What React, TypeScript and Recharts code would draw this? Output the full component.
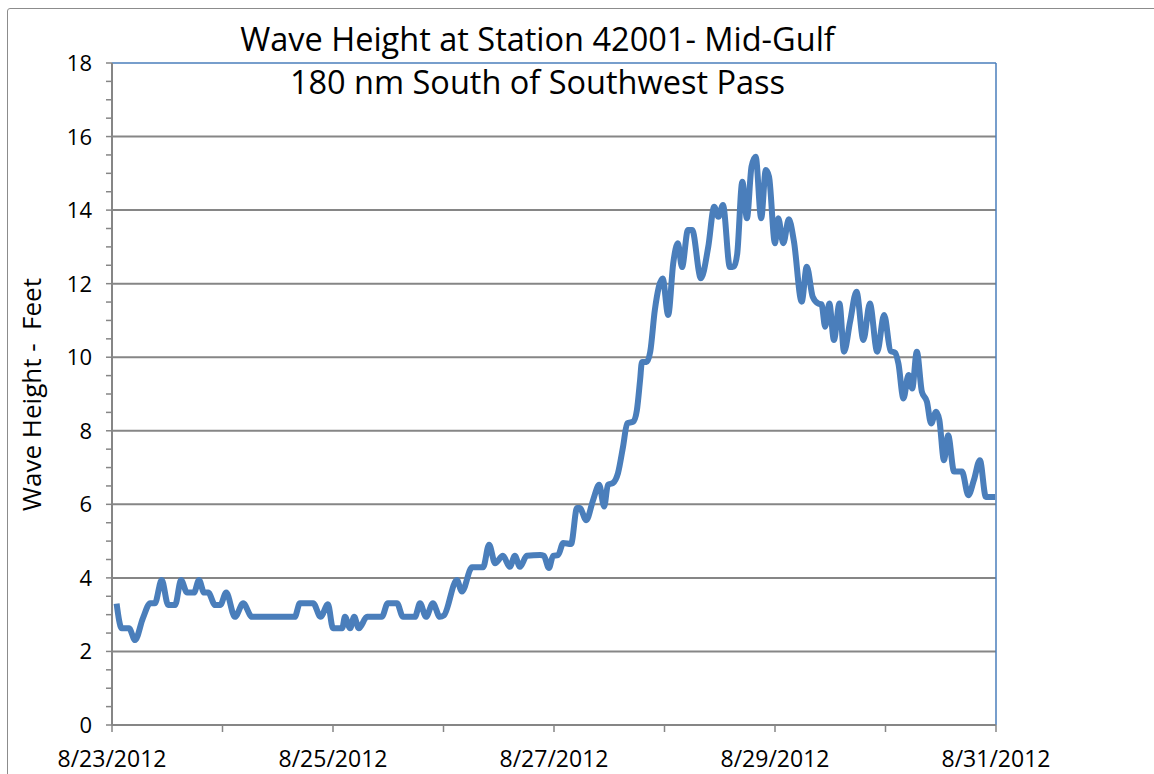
import React from "react";
import { LineChart, Line, XAxis, YAxis, ReferenceLine } from "recharts";

// hours after 8/23/2012 00:00
const hours = [
  1, 2.1, 3.7, 5, 6.7, 8.3, 9.3, 10.8, 12.2, 13.7, 15, 16.3, 17.8, 18.9, 20, 20.9, 22.4, 23.5,
  24.8, 26.7, 28.5, 30.4, 39.7, 40.8, 43.7, 45.3, 46.9, 48, 50, 50.6, 51.7, 52.6, 53.6, 55.4,
  58.6, 59.9, 61.9, 63.2, 65.8, 66.9, 68.2, 69.7, 71.2, 72.1, 74.9, 76, 78.2, 80.6, 81.9, 83.2,
  84.9, 86.4, 87.5, 88.6, 90.1, 93, 93.8, 94.9, 95.8, 96.9, 98, 99.7, 101, 101.6, 103, 104.5,
  105.8, 106.9, 107.7, 108.8, 109.9, 111, 111.9, 113.2, 114, 114.7, 115.1, 116.1, 116.9, 117.9,
  119.6, 120.8, 121.9, 122.9, 123.8, 125.1, 126, 127.9, 129.5, 130.8, 131.7, 132.7, 134.2,
  135.1, 135.8, 136.9, 137.9, 138.9, 139.8, 141, 142, 142.7, 144, 144.7, 145.8, 147, 148.1,
  149.8, 150.9, 152.2, 153.4, 154.1, 154.9, 155.8, 156.8, 158, 159, 160.3, 161.7, 163.2, 164.6,
  166.2, 167.7, 169.1, 170.1, 170.8, 171.9, 173, 173.8, 174.8, 175.9, 177, 177.9, 179, 179.7,
  180.7, 181.6, 182.9, 184.6, 186, 187.2, 188.5, 189.8, 191.8,
];

const waveFeet = [
  3.3, 2.63, 2.63, 2.31, 2.9, 3.31, 3.31, 3.94, 3.26, 3.26, 3.94, 3.6, 3.6, 3.94, 3.6, 3.6, 3.26, 3.26,
  3.6, 2.94, 3.31, 2.94, 2.94, 3.31, 3.31, 2.94, 3.28, 2.63, 2.63, 2.94, 2.63, 2.94, 2.63, 2.94,
  2.94, 3.31, 3.31, 2.94, 2.94, 3.31, 2.94, 3.31, 2.94, 2.98, 3.94, 3.63, 4.29, 4.29, 4.9, 4.4,
  4.6, 4.3, 4.6, 4.3, 4.6, 4.62, 4.6, 4.27, 4.6, 4.62, 4.95, 4.92, 5.9, 5.9, 5.57, 6.12,
  6.53, 5.94, 6.53, 6.58, 6.85, 7.57, 8.2, 8.25, 8.56, 9.38, 9.87, 9.87, 10.15, 11.28,
  12.14, 11.15, 12.56, 13.1, 12.45, 13.46, 13.46, 12.15, 13.0, 14.09, 13.82, 14.14, 12.45,
  12.47, 12.82, 14.77, 13.78, 15.18, 15.45, 13.78, 15.09, 14.91, 13.1, 13.78, 13.1, 13.75, 13.16,
  11.51, 12.46, 11.64, 11.46, 11.44, 10.83, 11.46, 10.47, 11.46, 10.15, 10.96, 11.78, 10.47, 11.46,
  10.15, 11.15, 10.17, 10.12, 9.83, 8.88, 9.52, 9.15, 10.15, 9.06, 8.79, 8.2, 8.52, 8.29,
  7.2, 7.88, 6.89, 6.89, 6.25, 6.66, 7.2, 6.2, 6.2,
];

const dayTicks = [0, 24, 48, 72, 96, 120, 144, 168, 192];
const dateLabels: Record<number, string> = {
  0: "8/23/2012",
  48: "8/25/2012",
  96: "8/27/2012",
  144: "8/29/2012",
  192: "8/31/2012",
};
const yTicks = Array.from({ length: 37 }, (_, i) => i * 0.5);
const gridValues = [2, 4, 6, 8, 10, 12, 14, 16];

const rows = hours.map((h, i) => ({ h, ft: waveFeet[i] }));

const FONT = "'Open Sans', sans-serif";
const AXIS = "#868686";
const BLUE = "#4A7EBB";

const XTick = (props: any) => {
  const { x, y, payload } = props;
  const label = dateLabels[payload.value];
  if (!label) return null;
  return (
    <text x={x} y={y + 33} textAnchor="middle" fontSize={23} fontFamily={FONT} fill="#000">
      {label}
    </text>
  );
};

const YTick = (props: any) => {
  const { x, y, payload } = props;
  const v = payload.value;
  if (v % 2 !== 0) return null;
  return (
    <text x={x} y={y + 8} textAnchor="end" fontSize={22} fontFamily={FONT} fill="#000">
      {v}
    </text>
  );
};

export default function App() {
  return (
    <div style={{ position: "absolute", left: 0, top: 0, width: 1154, height: 774, overflow: "hidden", background: "#fff" }}>
      <div
        style={{
          position: "absolute",
          left: 7,
          top: 8,
          width: 1170,
          height: 790,
          border: "1.5px solid #8c8c8c",
          borderRadius: 3,
        }}
      />
      <LineChart
        width={1154}
        height={774}
        data={rows}
        margin={{ top: 63, right: 158, bottom: 4, left: 42 }}
        style={{ position: "absolute", left: 0, top: 0 }}
      >
        <XAxis
          dataKey="h"
          type="number"
          domain={[0, 192]}
          ticks={dayTicks}
          interval={0}
          tick={<XTick />}
          tickSize={7}
          height={45}
          axisLine={{ stroke: AXIS, strokeWidth: 2 }}
          tickLine={{ stroke: AXIS, strokeWidth: 1.5 }}
        />
        <YAxis
          type="number"
          domain={[0, 18]}
          ticks={yTicks}
          interval={0}
          tick={<YTick />}
          tickSize={6}
          tickMargin={14}
          width={70}
          axisLine={{ stroke: AXIS, strokeWidth: 2 }}
          tickLine={{ stroke: AXIS, strokeWidth: 1.5 }}
          label={{
            value: "Wave Height -\u00a0 Feet",
            angle: -90,
            position: "insideLeft",
            dx: -15,
            dy: 117,
            style: { fontSize: 26, fontFamily: FONT, fill: "#000" },
          }}
        />
        {gridValues.map((g) => (
          <ReferenceLine key={g} y={g} stroke={AXIS} strokeWidth={2} ifOverflow="visible" />
        ))}
        <ReferenceLine y={18} stroke={BLUE} strokeWidth={1.5} ifOverflow="visible" />
        <ReferenceLine x={192} stroke={BLUE} strokeWidth={1.5} ifOverflow="visible" />
        <Line
          type="monotone"
          dataKey="ft"
          stroke={BLUE}
          strokeWidth={6}
          dot={false}
          isAnimationActive={false}
        />
      </LineChart>
      <div
        style={{
          position: "absolute",
          left: 0,
          width: 1075,
          top: 17,
          textAlign: "center",
          fontFamily: FONT,
          fontSize: 32.5,
          lineHeight: "43px",
          color: "#000",
        }}
      >
        <div>Wave Height at Station 42001- Mid-Gulf</div>
        <div>180 nm South of Southwest Pass</div>
      </div>
    </div>
  );
}
